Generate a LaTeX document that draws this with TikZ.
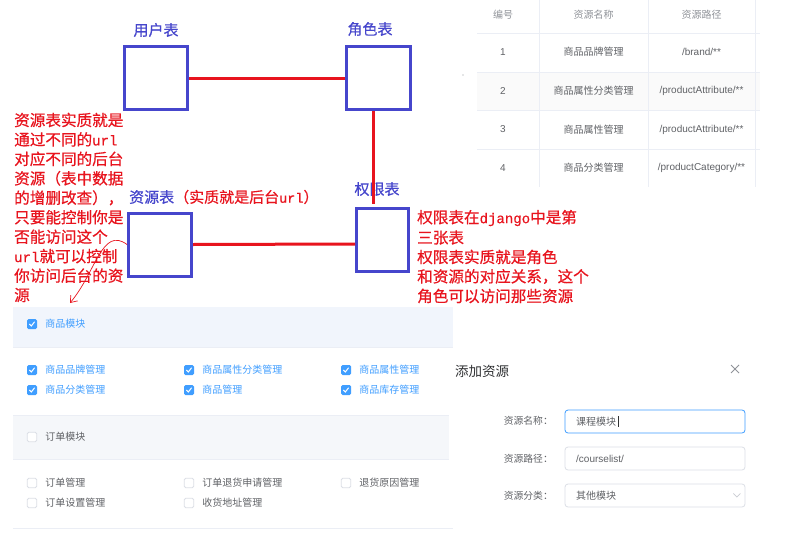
\documentclass[tikz,border=0pt]{standalone}
\usepackage{fontspec}
\setmainfont{Noto Sans CJK SC}
\newfontfamily\notefont[FakeBold=0.5]{Noto Sans CJK SC}
\newfontfamily\uilatin{Liberation Sans}
\newfontfamily\monof[Scale=0.9,FakeBold=0.5]{Liberation Mono}
\usetikzlibrary{arrows.meta}
\definecolor{tblue}{HTML}{4646CC}
\definecolor{tred}{HTML}{E8141E}
\definecolor{elblue}{HTML}{409EFF}
\definecolor{elline}{HTML}{EBEEF5}
\definecolor{eltext}{HTML}{606266}
\definecolor{elgray}{HTML}{909399}
\definecolor{elborder}{HTML}{DCDFE6}
\definecolor{bandA}{HTML}{F1F5FC}
\definecolor{bandB}{HTML}{F5F7FA}
\definecolor{rowgray}{HTML}{FAFAFA}
\definecolor{eldark}{HTML}{303133}
\tikzset{
  tbl/.style={draw=tblue, line width=3pt, inner sep=0pt, minimum width=63pt, minimum height=63pt},
  tlabel/.style={text=tblue, inner sep=0pt, font=\notefont\fontsize{15}{18}\selectfont},
  rline/.style={draw=tred, line width=3pt},
  note/.style={text=tred, anchor=west, inner sep=0pt, font=\notefont\fontsize{15.6}{19.5}\selectfont},
  thead/.style={text=elgray, inner sep=0pt, font=\fontsize{10}{12}\selectfont},
  tcell/.style={text=eltext, inner sep=0pt, font=\fontsize{10}{12}\selectfont},
  tpath/.style={text=eltext, inner sep=0pt, font=\uilatin\fontsize{10}{12}\selectfont},
  gline/.style={draw=elline, line width=0.8pt},
  cbonbox/.style={fill=elblue, rounded corners=1.5pt, minimum size=10pt, inner sep=0pt},
  cboffbox/.style={fill=white, draw=elborder, line width=0.8pt, rounded corners=1.5pt, minimum size=9.5pt, inner sep=0pt},
  cbonlab/.style={text=elblue, anchor=west, inner sep=0pt, font=\fontsize{10}{12}\selectfont},
  cbofflab/.style={text=eltext, anchor=west, inner sep=0pt, font=\fontsize{10}{12}\selectfont},
  flabel/.style={text=eltext, anchor=east, inner sep=0pt, font=\fontsize{9.8}{12}\selectfont},
  finput/.style={draw=elborder, line width=0.8pt, rounded corners=3pt, minimum width=180pt, minimum height=23pt, inner sep=0pt},
  ftext/.style={text=eltext, anchor=west, inner sep=0pt, font=\fontsize{10}{12}\selectfont},
}
\newcommand{\cbon}[4]{%
  \node[cbonbox] (#1) at (#2,#3) {};
  \draw[white, line width=1pt] ([shift={(-2.6,0)}]#1.center) -- ([shift={(-0.7,2)}]#1.center) -- ([shift={(2.6,-2.2)}]#1.center);
  \node[cbonlab] (#1t) at ([xshift=8pt]#1.east) {#4};}
\newcommand{\cboff}[4]{%
  \node[cboffbox] (#1) at (#2,#3) {};
  \node[cbofflab] (#1t) at ([xshift=8pt]#1.east) {#4};}
\newcommand{\trow}[5]{%
  \node[tpath] (c1#1) at (503,#2) {#3};
  \node[tcell] (c2#1) at (593.5,#2) {#4};
  \node[tpath] (c3#1) at (701.5,#2) {#5};}
\begin{document}
\begin{tikzpicture}[x=1pt,y=-1pt]
\useasboundingbox[fill=white] (0,0) rectangle (786,543);

% ---------- diagram ----------
\node[tbl] (user) at (156,78) {};
\node[tbl, minimum width=64pt] (role) at (378,78) {};
\node[tbl] (res) at (160,244.5) {};
\node[tbl, minimum width=52pt] (perm) at (382.5,240) {};

\node[tlabel] (userl) at (156,30) {用户表};
\node[tlabel] (rolel) at (370,29) {角色表};
\node[tlabel] (perml) at (377,189) {权限表};
\node[tlabel, anchor=west] (resl) at (129,197) {资源表\textcolor{tred}{（实质就是后台{\monof url}）}};

\draw[rline] (user.east) -- (role.west);
\draw[rline] ([xshift=-5pt]role.south) -- ([xshift=-9.5pt,yshift=3pt]perm.north);
\draw[rline] (res.east) -- ([yshift=-4pt]perm.west);

% left note
\foreach \t [count=\i from 0] in {资源表实质就是,通过不同的{\monof url},对应不同的后台,资源（表中数据,的增删改查），,只要能控制你是,否能访问这个,{\monof url}就可以控制,你访问后台的资,源}
  \node[note] (ln\i) at (14,120+19.45*\i) {\t};

% right note
\foreach \t [count=\i from 0] in {权限表在{\monof django}中是第,三张表,权限表实质就是角色,和资源的对应关系，这个,角色可以访问那些资源}
  \node[note] (rn\i) at (417,218+19.5*\i) {\t};

% hand-drawn arrow
\coordinate (atip) at (70,303);
\draw[tred, line width=0.7pt, -{Straight Barb[length=6pt,width=9pt]}] (res.west) .. controls (102,226) and (96,272) .. (atip);

% ---------- table ----------
\fill[rowgray] (477,72) rectangle (760,110);
\foreach \yy in {33,72,110,149} \draw[gline] (477,\yy) -- (760,\yy);
\foreach \xx in {539,648,755} \draw[gline] (\xx,0) -- (\xx,187);
\node[thead] (h1) at (503,15) {编号};
\node[thead] (h2) at (593.5,15) {资源名称};
\node[thead] (h3) at (701.5,15) {资源路径};
\trow{1}{52}{1}{商品品牌管理}{/brand/**}
\trow{2}{91}{2}{商品属性分类管理}{/productAttribute/**}
\trow{3}{129.5}{3}{商品属性管理}{/productAttribute/**}
\trow{4}{168}{4}{商品分类管理}{/productCategory/**}
\fill[elgray] (463,75) circle (0.7pt);

% ---------- checkbox panel ----------
\fill[bandA] (13,307) rectangle (453,347);
\draw[gline] (13,347) -- (453,347);
\fill[bandB] (13,415) rectangle (449,459);
\draw[gline] (13,415) -- (449,415);
\draw[gline] (13,459) -- (449,459);
\draw[gline] (13,528) -- (453,528);

\cbon{m1}{32}{324}{商品模块}
\cbon{a1}{32}{370}{商品品牌管理}
\cbon{a2}{189}{370}{商品属性分类管理}
\cbon{a3}{346}{370}{商品属性管理}
\cbon{a4}{32}{390}{商品分类管理}
\cbon{a5}{189}{390}{商品管理}
\cbon{a6}{346}{390}{商品库存管理}

\cboff{m2}{32}{437}{订单模块}
\cboff{b1}{32}{483}{订单管理}
\cboff{b2}{189}{483}{订单退货申请管理}
\cboff{b3}{346}{483}{退货原因管理}
\cboff{b4}{32}{503}{订单设置管理}
\cboff{b5}{189}{503}{收货地址管理}

% ---------- dialog ----------
\node[text=eldark, anchor=west, inner sep=0pt, font=\fontsize{13.5}{16}\selectfont] (dtitle) at (455,371) {添加资源};
\coordinate (xc) at (735,369);
\draw[elgray, line width=0.8pt] ([shift={(-4,-4)}]xc) -- ([shift={(4,4)}]xc) ([shift={(-4,4)}]xc) -- ([shift={(4,-4)}]xc);

\node[flabel] (f1l) at (553,421) {资源名称：};
\node[flabel] (f2l) at (553,459) {资源路径：};
\node[flabel] (f3l) at (553,495.5) {资源分类：};

\node[finput, draw=elblue] (f1) at (655,421.5) {};
\node[finput] (f2) at (655,458.5) {};
\node[finput] (f3) at (655,495.5) {};

\node[ftext] (f1t) at (576,421.5) {课程模块};
\draw[eldark, line width=0.6pt] ([xshift=1.5pt,yshift=5.5pt]f1t.east) -- ([xshift=1.5pt,yshift=-5.5pt]f1t.east);
\node[ftext, font=\uilatin\fontsize{10}{12}\selectfont] (f2t) at (576,458.5) {/courselist/};
\node[ftext] (f3t) at (576,495.5) {其他模块};
\draw[elborder!80!gray, line width=0.8pt] ([shift={(-12,-2)}]f3.east) -- ([shift={(-8.5,1.5)}]f3.east) -- ([shift={(-5,-2)}]f3.east);
\end{tikzpicture}
\end{document}
